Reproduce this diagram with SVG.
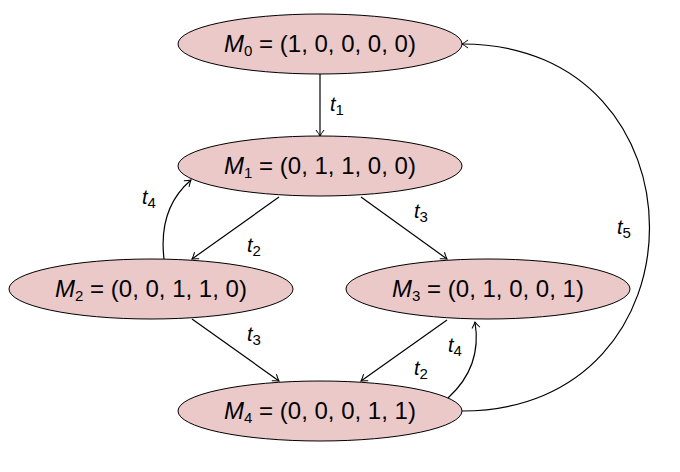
<svg xmlns="http://www.w3.org/2000/svg" width="680" height="472" viewBox="0 0 680 472">
<style>
.node ellipse{fill:#ecc9c9;stroke:#000;stroke-width:1}
.node text{font-family:"Liberation Sans","DejaVu Sans",sans-serif;font-size:24px;fill:#000;text-anchor:middle}
.lbl{font-family:"Liberation Sans","DejaVu Sans",sans-serif;font-size:20px;font-style:italic;fill:#000;text-anchor:middle}
.sub{font-size:15px;font-style:normal}
.edge{fill:none;stroke:#000;stroke-width:1.2;marker-end:url(#arr)}
</style>
<defs>
<marker id="arr" viewBox="-8 -5 10 10" refX="0" refY="0" markerWidth="10" markerHeight="10" markerUnits="userSpaceOnUse" orient="auto">
<path d="M -6 -4 Q -2 -1 0 0 Q -2 1 -6 4" fill="none" stroke="#000" stroke-width="1"/>
</marker>
</defs>
<rect width="680" height="472" fill="#fff"/>
<g id="connectors">
<path class="edge" d="M 320 74 L 320 136"/>
<path class="edge" d="M 279 197 L 192 259"/>
<path class="edge" d="M 361 197 L 447 259"/>
<path class="edge" d="M 192 319 L 279 381"/>
<path class="edge" d="M 447 320 L 361 381"/>
<path class="edge" d="M 164 259 C 160 225 170 198 191 180"/>
<path class="edge" d="M 448 398 C 470 378 480 352 475 322"/>
<path class="edge" d="M 462 411 C 712 411 712 44 462 44"/>
<text class="lbl" x="337" y="111">t<tspan class="sub" dy="4">1</tspan></text>
<text class="lbl" x="254" y="252">t<tspan class="sub" dy="4">2</tspan></text>
<text class="lbl" x="421" y="218">t<tspan class="sub" dy="4">3</tspan></text>
<text class="lbl" x="254" y="341">t<tspan class="sub" dy="4">3</tspan></text>
<text class="lbl" x="421" y="375">t<tspan class="sub" dy="4">2</tspan></text>
<text class="lbl" x="149" y="204">t<tspan class="sub" dy="4">4</tspan></text>
<text class="lbl" x="455" y="352">t<tspan class="sub" dy="4">4</tspan></text>
<text class="lbl" x="624" y="234">t<tspan class="sub" dy="4">5</tspan></text>
</g>
<g id="M0" class="node"><ellipse cx="320" cy="44" rx="142" ry="30"/><text x="320" y="52"><tspan font-style="italic">M</tspan><tspan class="sub" dy="4">0</tspan><tspan dy="-4"> = (1, 0, 0, 0, 0)</tspan></text></g>
<g id="M1" class="node"><ellipse cx="320" cy="166" rx="142" ry="30"/><text x="320" y="174"><tspan font-style="italic">M</tspan><tspan class="sub" dy="4">1</tspan><tspan dy="-4"> = (0, 1, 1, 0, 0)</tspan></text></g>
<g id="M2" class="node"><ellipse cx="151" cy="289" rx="142" ry="30"/><text x="151" y="297"><tspan font-style="italic">M</tspan><tspan class="sub" dy="4">2</tspan><tspan dy="-4"> = (0, 0, 1, 1, 0)</tspan></text></g>
<g id="M3" class="node"><ellipse cx="488" cy="289" rx="142" ry="30"/><text x="488" y="297"><tspan font-style="italic">M</tspan><tspan class="sub" dy="4">3</tspan><tspan dy="-4"> = (0, 1, 0, 0, 1)</tspan></text></g>
<g id="M4" class="node"><ellipse cx="320" cy="411" rx="142" ry="30"/><text x="320" y="419"><tspan font-style="italic">M</tspan><tspan class="sub" dy="4">4</tspan><tspan dy="-4"> = (0, 0, 0, 1, 1)</tspan></text></g>
</svg>
